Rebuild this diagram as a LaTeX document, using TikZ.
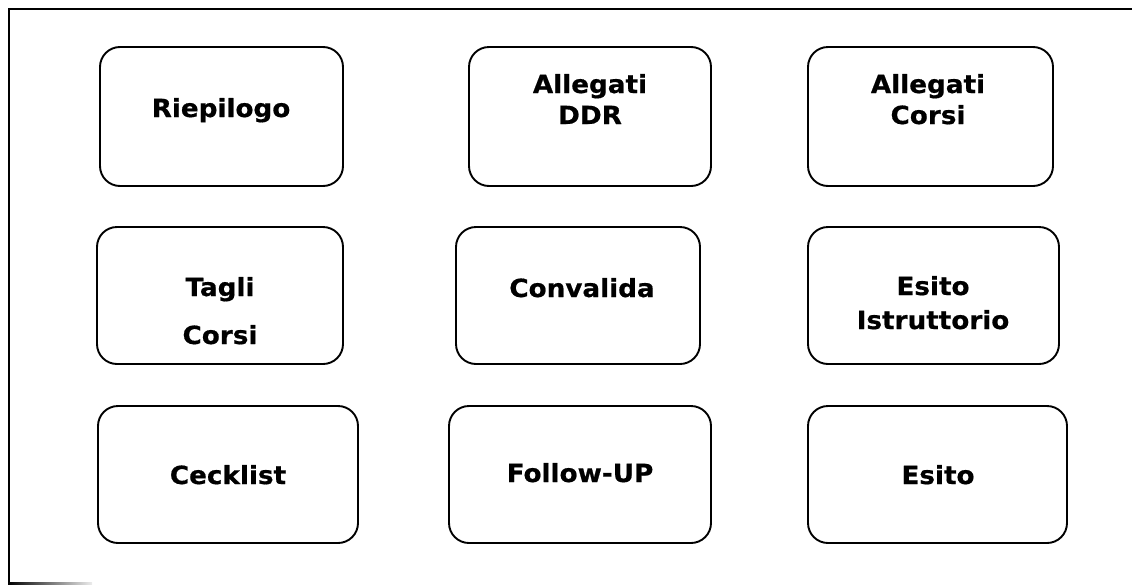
\documentclass[tikz,border=0pt]{standalone}
\usepackage{fontspec}
\setmainfont{DejaVu Sans}[FakeStretch=1.05, BoldFeatures={FakeBold=0.6}]
\begin{document}
\begin{tikzpicture}[x=1pt,y=1pt,
  box/.style={draw=black, line width=1.9pt, rounded corners=20pt, fill=white, inner sep=0pt},
  lbl/.style={anchor=base, inner sep=0pt, font=\bfseries\fontsize{25}{30}\selectfont},
  frameline/.style={line width=1.9pt, line cap=rect}]
\useasboundingbox (0,0) rectangle (1132,-584);
% outer frame (partly cropped)
\draw[frameline] (9,-583) -- (9,-9) -- (1132,-9);
\shade[left color=black, right color=white!85!gray] (8,-582) rectangle (92,-584);
% boxes
\node[box, minimum width=243pt, minimum height=139pt] (riep)  at (221.5,-116.5) {};
\node[box, minimum width=242pt, minimum height=139pt] (alddr) at (590,-116.5) {};
\node[box, minimum width=245pt, minimum height=139pt] (alcor) at (930.5,-116.5) {};
\node[box, minimum width=246pt, minimum height=137pt] (tagli) at (220,-295.5) {};
\node[box, minimum width=244pt, minimum height=137pt] (conv)  at (578,-295.5) {};
\node[box, minimum width=251pt, minimum height=137pt] (esistr) at (933.5,-295.5) {};
\node[box, minimum width=260pt, minimum height=137pt] (ceck)  at (228,-474.5) {};
\node[box, minimum width=262pt, minimum height=137pt] (follow) at (580,-474.5) {};
\node[box, minimum width=259pt, minimum height=137pt] (esito) at (937.5,-474.5) {};
% labels
\node[lbl] (tRiep) at (221,-117) {Riepilogo};
\node[lbl] (tAl1a) at (590,-93) {Allegati};
\node[lbl] (tAl1b) at (590,-124) {DDR};
\node[lbl] (tAl2a) at (928,-93) {Allegati};
\node[lbl] (tAl2b) at (928,-124) {Corsi};
\node[lbl] (tTaga) at (220,-296) {Tagli};
\node[lbl] (tTagb) at (220,-344) {Corsi};
\node[lbl] (tConv) at (582,-297) {Convalida};
\node[lbl] (tEsIa) at (933,-295) {Esito};
\node[lbl] (tEsIb) at (933,-329) {Istruttorio};
\node[lbl] (tCeck) at (228,-484) {Cecklist};
\node[lbl] (tFoll) at (580,-482) {Follow-UP};
\node[lbl] (tEsit) at (938,-484) {Esito};
\end{tikzpicture}
\end{document}
